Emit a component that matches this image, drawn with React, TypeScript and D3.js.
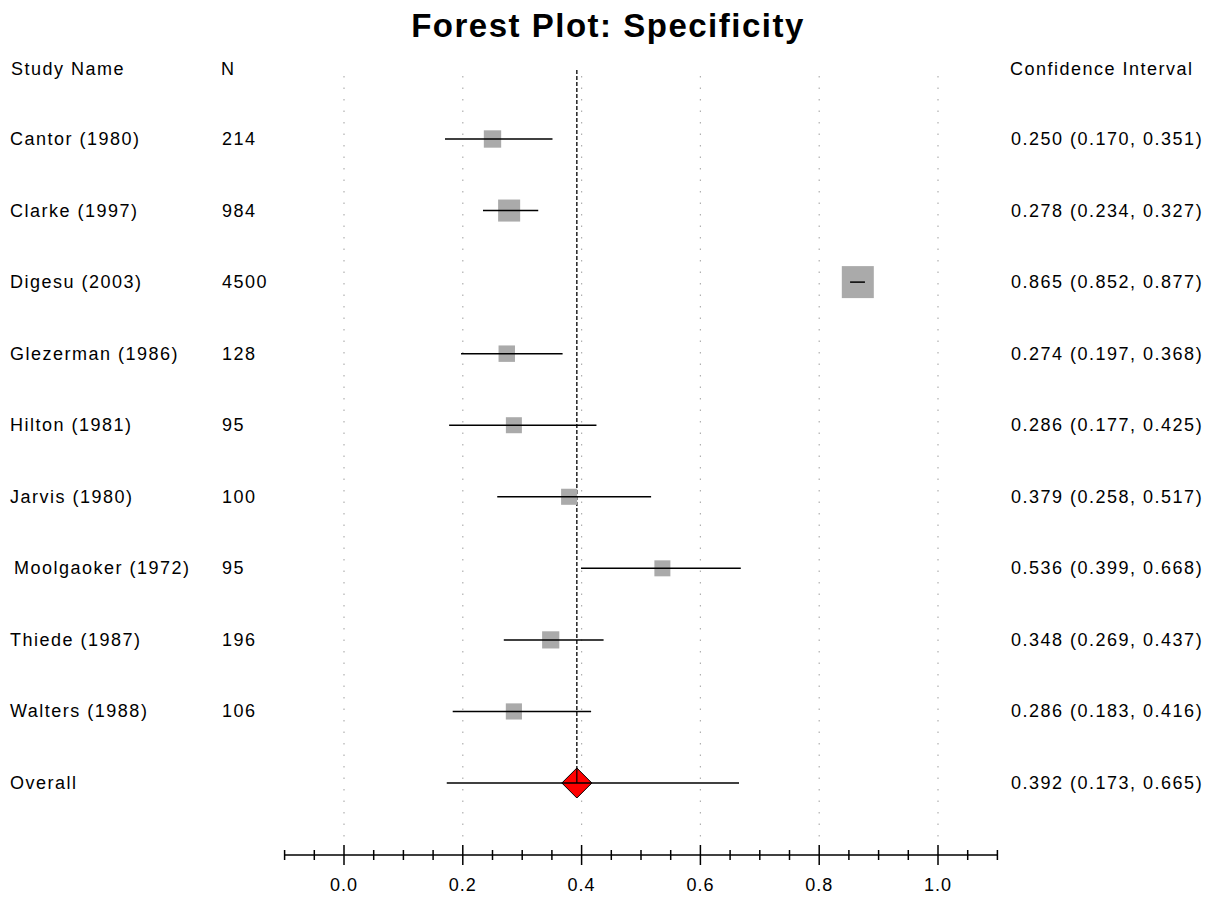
import React, { useEffect, useRef } from "react";
import * as d3 from "d3";

const studies = ["Cantor (1980)", "Clarke (1997)", "Digesu (2003)", "Glezerman (1986)", "Hilton (1981)", "Jarvis (1980)", "Moolgaoker (1972)", "Thiede (1987)", "Walters (1988)"];
const sizes = [214, 984, 4500, 128, 95, 100, 95, 196, 106];
const estimates = [0.250, 0.278, 0.865, 0.274, 0.286, 0.379, 0.536, 0.348, 0.286];
const lowers = [0.170, 0.234, 0.852, 0.197, 0.177, 0.258, 0.399, 0.269, 0.183];
const uppers = [0.351, 0.327, 0.877, 0.368, 0.425, 0.517, 0.668, 0.437, 0.416];
const overall = { est: 0.392, lo: 0.173, hi: 0.665 };
const majorTicks = [0, 0.2, 0.4, 0.6, 0.8, 1.0];

const W = 1217, H = 901;
const FONT = "Liberation Sans, Arial, sans-serif";

export default function App() {
  const ref = useRef<SVGSVGElement>(null);

  useEffect(() => {
    const svg = d3.select(ref.current);
    svg.selectAll("*").remove();

    const x = d3.scaleLinear().domain([-0.1, 1.1]).range([284.6, 997.4]);
    const y = d3.scaleLinear().domain([0, 9]).range([139, 783]);
    const boxSize = d3.scaleSqrt().domain([95, 4500]).range([16, 32]);
    const fmt = d3.format(".3f");
    const axisY = 855;

    svg.append("text")
      .attr("x", 608).attr("y", 37)
      .attr("text-anchor", "middle")
      .attr("font-family", FONT).attr("font-weight", "bold").attr("font-size", 33)
      .attr("letter-spacing", 1.5)
      .text("Forest Plot: Specificity");

    // header
    const header = svg.append("g").attr("font-family", FONT).attr("font-size", 18).attr("letter-spacing", 1.5);
    header.append("text").attr("x", 11).attr("y", 75).text("Study Name");
    header.append("text").attr("x", 221).attr("y", 75).text("N");
    header.append("text").attr("x", 1010).attr("y", 75).text("Confidence Interval");

    // gridlines
    svg.append("g").selectAll("line").data(majorTicks).join("line")
      .attr("x1", d => x(d)).attr("x2", d => x(d))
      .attr("y1", 76).attr("y2", 838)
      .attr("stroke", "#b0b0b0").attr("stroke-width", 1.2)
      .attr("stroke-dasharray", "1.5,10");

    // overall dashed line
    svg.append("line")
      .attr("x1", x(overall.est)).attr("x2", x(overall.est))
      .attr("y1", 70).attr("y2", y(9))
      .attr("stroke", "#000").attr("stroke-width", 1.3)
      .attr("stroke-dasharray", "4,2");

    const rows = svg.append("g");
    studies.forEach((s, i) => {
      const cy = y(i);
      const txt = rows.append("g").attr("font-family", FONT).attr("font-size", 18).attr("letter-spacing", 1.5);
      txt.append("text").attr("x", i === 6 ? 14 : 10).attr("y", cy + 6).text(s);
      txt.append("text").attr("x", 222).attr("y", cy + 6).text(sizes[i]);
      txt.append("text").attr("x", 1011).attr("y", cy + 6)
        .text(`${fmt(estimates[i])} (${fmt(lowers[i])}, ${fmt(uppers[i])})`);

      const b = boxSize(sizes[i]);
      rows.append("rect")
        .attr("x", x(estimates[i]) - b / 2).attr("y", cy - b / 2)
        .attr("width", b).attr("height", b)
        .attr("fill", "#aaaaaa");
      rows.append("line")
        .attr("x1", x(lowers[i])).attr("x2", x(uppers[i]))
        .attr("y1", cy).attr("y2", cy)
        .attr("stroke", "#000").attr("stroke-width", 1.5);
    });

    // overall row
    const oy = y(9);
    const ot = rows.append("g").attr("font-family", FONT).attr("font-size", 18).attr("letter-spacing", 1.5);
    ot.append("text").attr("x", 10).attr("y", oy + 6).text("Overall");
    ot.append("text").attr("x", 1011).attr("y", oy + 6)
      .text(`${fmt(overall.est)} (${fmt(overall.lo)}, ${fmt(overall.hi)})`);
    rows.append("line")
      .attr("x1", x(overall.lo)).attr("x2", x(overall.hi))
      .attr("y1", oy).attr("y2", oy)
      .attr("stroke", "#000").attr("stroke-width", 1.5);
    const cx = x(overall.est), d = 15;
    rows.append("path")
      .attr("d", `M${cx - d},${oy}L${cx},${oy - d}L${cx + d},${oy}L${cx},${oy + d}Z`)
      .attr("fill", "#ff0000").attr("stroke", "#000").attr("stroke-width", 1);
    rows.append("line")
      .attr("x1", cx - d).attr("x2", cx + d).attr("y1", oy).attr("y2", oy)
      .attr("stroke", "#000").attr("stroke-width", 1.5);
    rows.append("line")
      .attr("x1", cx).attr("x2", cx).attr("y1", oy - d).attr("y2", oy)
      .attr("stroke", "#000").attr("stroke-width", 1.2);

    // axis
    const minorTicks = d3.range(-2, 23).map(k => k * 0.05);
    const isMajor = (v: number) => Math.abs(v * 5 - Math.round(v * 5)) < 1e-6 && v >= 0 && v <= 1;
    const ax = svg.append("g").attr("transform", `translate(0,${axisY})`);
    ax.append("line").attr("x1", x(-0.1)).attr("x2", x(1.1))
      .attr("stroke", "#000").attr("stroke-width", 1.5);
    ax.selectAll("line.minor").data(minorTicks).join("line")
      .attr("class", "minor")
      .attr("x1", v => x(v)).attr("x2", v => x(v))
      .attr("y1", v => (isMajor(v) ? -10 : -5))
      .attr("y2", v => (isMajor(v) ? 10 : 5))
      .attr("stroke", "#000").attr("stroke-width", 1.5);
    ax.selectAll("text").data(majorTicks).join("text")
      .attr("x", v => x(v)).attr("y", 36)
      .attr("text-anchor", "middle")
      .attr("font-family", FONT).attr("font-size", 18).attr("letter-spacing", 1)
      .text(v => d3.format(".1f")(v));
  }, []);

  return (
    <div style={{ position: "absolute", left: 0, top: 0 }}>
      <svg ref={ref} width={W} height={H} style={{ display: "block", background: "#fff" }} />
    </div>
  );
}
